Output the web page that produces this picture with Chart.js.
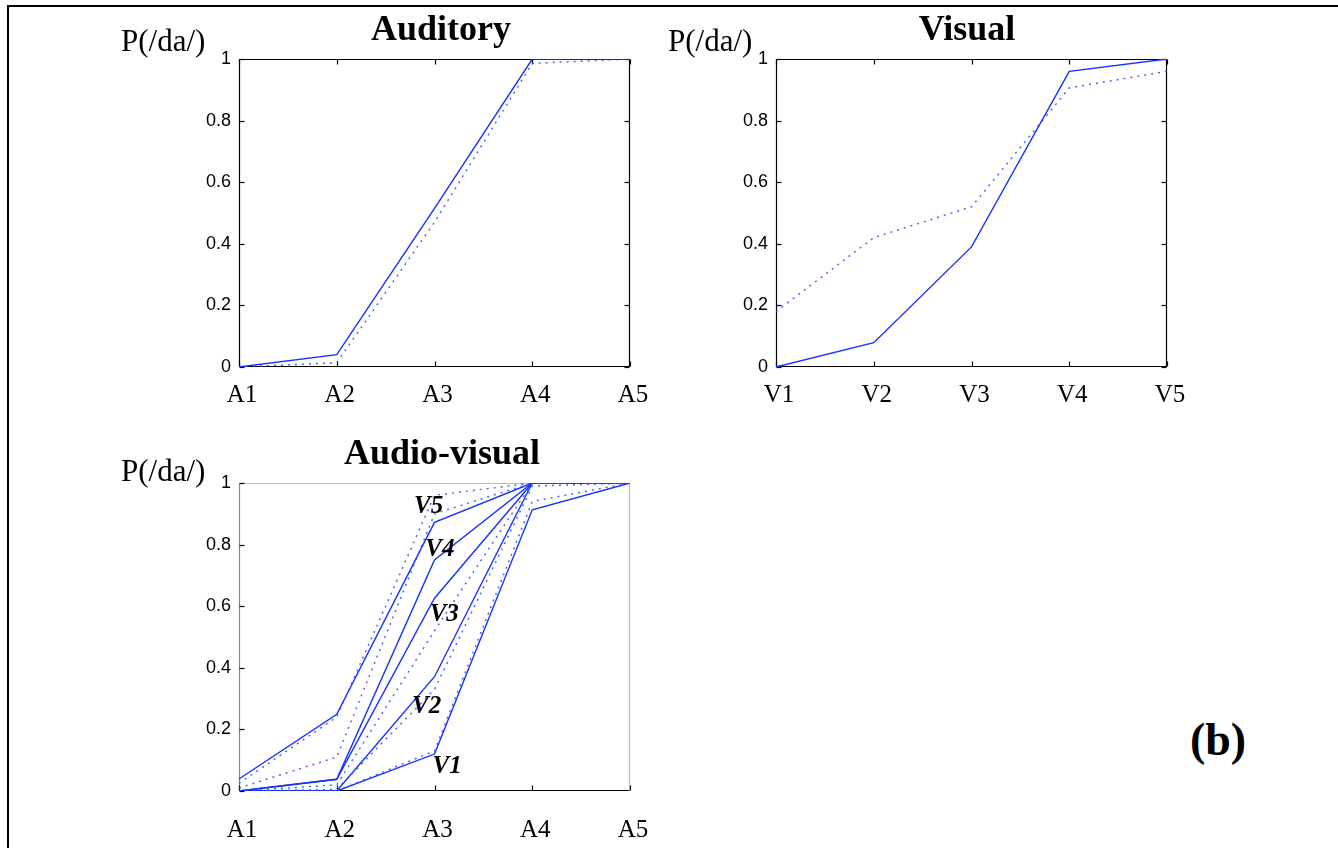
<!DOCTYPE html>
<html><head><meta charset="utf-8">
<script src="https://cdn.jsdelivr.net/npm/chart.js@4"></script>
<style>
html,body{margin:0;padding:0;background:#fff;}
#fig{position:relative;width:1338px;height:848px;overflow:hidden;background:#fff;}
canvas{position:absolute;}
.t{position:absolute;font-family:"Liberation Serif","Times New Roman",serif;color:#000;white-space:nowrap;line-height:1;}
.title{font-weight:bold;font-size:36px;transform:translateX(-50%);}
.ylab{font-size:31px;}
.tag{font-weight:bold;font-size:46px;transform:translate(-50%,-50%);}
#frameTop{position:absolute;left:7px;top:5px;width:1331px;height:2px;background:#000;}
#frameLeft{position:absolute;left:7px;top:5px;width:2px;height:843px;background:#000;}
</style></head>
<body><div id="fig">
<div id="frameTop"></div><div id="frameLeft"></div>
<canvas id="c1" width="650" height="424" style="left:0;top:0"></canvas>
<canvas id="c2" width="678" height="424" style="left:660px;top:0"></canvas>
<canvas id="c3" width="650" height="424" style="left:0;top:424px"></canvas>
<div class="t title" style="left:441px;top:10px">Auditory</div>
<div class="t title" style="left:967px;top:10px">Visual</div>
<div class="t title" style="left:442px;top:434px">Audio-visual</div>
<div class="t ylab" style="left:121px;top:25px">P(/da/)</div>
<div class="t ylab" style="left:668px;top:25px">P(/da/)</div>
<div class="t ylab" style="left:121px;top:455px">P(/da/)</div>
<div class="t tag" style="left:1218px;top:740px">(b)</div>
</div>
<script>
// ---- data ----
const auditoryCats = ['A1','A2','A3','A4','A5'];
const visualCats = ['V1','V2','V3','V4','V5'];
const yTicks = [0, 0.2, 0.4, 0.6, 0.8, 1];
const yTickLabels = ['0', '0.2', '0.4', '0.6', '0.8', '1'];

const audObserved  = [0, 0.04, 0.515, 1, 1];
const audPredicted = [0, 0.014, 0.47, 0.986, 1];

const visObserved  = [0, 0.079, 0.39, 0.96, 1];
const visPredicted = [0.18, 0.42, 0.52, 0.906, 0.96];

const avObservedV1 = [0, 0, 0.12, 0.913, 1];
const avObservedV2 = [0, 0, 0.371, 1, 1];
const avObservedV3 = [0, 0.038, 0.626, 1, 1];
const avObservedV4 = [0, 0.038, 0.75, 1, 1];
const avObservedV5 = [0.039, 0.249, 0.872, 1, 1];

const avPredictedV1 = [0, 0, 0.13, 0.94, 1];
const avPredictedV2 = [0, 0.005, 0.33, 0.99, 1];
const avPredictedV3 = [0, 0.02, 0.52, 1, 1];
const avPredictedV4 = [0.01, 0.11, 0.90, 1, 1];
const avPredictedV5 = [0.025, 0.24, 0.96, 1, 1];

const avCurveNames = ['V1','V2','V3','V4','V5'];
// label anchors in data coordinates (category index, probability)
const avLabelAt = [[2.13, 0.078], [1.92, 0.273], [2.10, 0.572], [2.055, 0.783], [1.94, 0.924]];

// ---- styles ----
const BLUE = 'rgb(20,50,255)';
const BLUE_DOT = 'rgba(40,75,255,0.85)';
function solid(d){return {data:d, borderColor:BLUE, borderWidth:1.4, pointRadius:0, tension:0, fill:false};}
function dotted(d){return {data:d, borderColor:BLUE_DOT, borderWidth:1.5, borderDash:[2,5], pointRadius:0, tension:0, fill:false};}

const framePlugin = {
  id:'frame',
  beforeDatasetsDraw(chart, args, o){
    const {ctx, chartArea:{left,right,top,bottom}, scales:{x,y}} = chart;
    const L=Math.round(left)+0.5, R=Math.round(right)-0.5, T=Math.round(top)+0.5, B=Math.round(bottom)-0.5;
    const tl = 5;
    ctx.save();
    ctx.lineWidth = 1.2;
    const line=(x1,y1,x2,y2,c)=>{ctx.strokeStyle=c;ctx.beginPath();ctx.moveTo(x1,y1);ctx.lineTo(x2,y2);ctx.stroke();};
    if(o.top) line(L,T,R,T,o.top.color);
    if(o.bottom) line(L,B,R,B,o.bottom.color);
    if(o.left) line(L,T,L,B,o.left.color);
    if(o.right) line(R,T,R,B,o.right.color);
    x.ticks.forEach((t,i)=>{
      const px = Math.round(x.getPixelForTick(i))+0.5;
      if(o.bottom && o.bottom.ticks) line(px,B,px,B-tl,'#000');
      if(o.top && o.top.ticks) line(px,T,px,T+tl,'#000');
    });
    y.ticks.forEach(t=>{
      const py = Math.round(y.getPixelForValue(t.value))+0.5;
      if(o.left && o.left.ticks) line(L,py,L+tl,py,'#000');
      if(o.right && o.right.ticks) line(R,py,R-tl,py,'#000');
    });
    ctx.restore();
  }
};

const vlabelPlugin = {
  id:'vlabels',
  afterDatasetsDraw(chart, args, o){
    if(!o || !o.names) return;
    const {ctx, scales:{x,y}} = chart;
    ctx.save();
    ctx.font = 'italic bold 25px "Liberation Serif", serif';
    ctx.fillStyle = '#000';
    ctx.textAlign = 'center';
    ctx.textBaseline = 'middle';
    o.names.forEach((n,i)=>{
      ctx.fillText(n, x.getPixelForValue(o.at[i][0]), y.getPixelForValue(o.at[i][1]));
    });
    ctx.restore();
  }
};

function makeChart(id, cats, datasets, cfg){
  return new Chart(document.getElementById(id), {
    type:'line',
    data:{labels:cats, datasets},
    options:{
      responsive:false, animation:false, devicePixelRatio:1,
      layout:{padding:{left:0, top:59, right:cfg.padRight, bottom:0}},
      plugins:{legend:{display:false}, tooltip:{enabled:false}, frame:cfg.frame, vlabels:cfg.vlabels || {}},
      scales:{
        x:{type:'category', offset:false,
           grid:{display:false, drawTicks:false}, border:{display:false},
           ticks:{font:{family:'"Liberation Serif", serif', size:25}, color:'#000', padding:cfg.xPad, labelOffset:3, maxRotation:0, autoSkip:false},
           afterFit:s=>{s.height=57; s.paddingLeft=0; s.paddingRight=0;}},
        y:{type:'linear', min:0, max:1,
           grid:{display:false, drawTicks:false}, border:{display:false},
           ticks:{font:{family:'"Liberation Sans", Arial, sans-serif', size:18}, color:'#000', padding:8,
                  callback:(v,i)=>yTickLabels[i]},
           afterBuildTicks:s=>{s.ticks = yTicks.map(v=>({value:v}));},
           afterFit:s=>{s.width=cfg.yWidth; s.paddingTop=0; s.paddingBottom=0;}}
      }
    },
    plugins:[framePlugin, vlabelPlugin]
  });
}

const blackBox = {top:{color:'#000',ticks:true}, bottom:{color:'#000',ticks:true}, left:{color:'#000',ticks:true}, right:{color:'#000',ticks:true}};

makeChart('c1', auditoryCats, [solid(audObserved), dotted(audPredicted)],
  {yWidth:239, padRight:20, xPad:13, frame:blackBox});
makeChart('c2', visualCats, [solid(visObserved), dotted(visPredicted)],
  {yWidth:116, padRight:171, xPad:13, frame:blackBox});
makeChart('c3', auditoryCats, [
    dotted(avPredictedV1), dotted(avPredictedV2), dotted(avPredictedV3), dotted(avPredictedV4), dotted(avPredictedV5),
    solid(avObservedV1), solid(avObservedV2), solid(avObservedV3), solid(avObservedV4), solid(avObservedV5)],
  {yWidth:239, padRight:20, xPad:24,
   frame:{top:{color:'#bbb',ticks:false}, right:{color:'#bbb',ticks:false}, left:{color:'#888',ticks:true}, bottom:{color:'#000',ticks:true}},
   vlabels:{names:avCurveNames, at:avLabelAt}});
</script>
</body></html>
